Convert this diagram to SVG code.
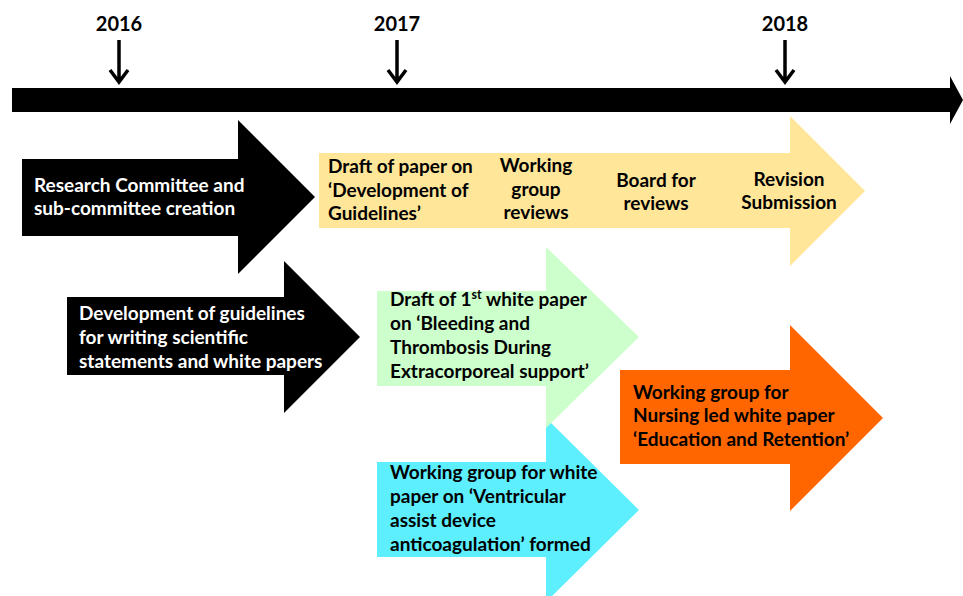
<svg xmlns="http://www.w3.org/2000/svg" width="963" height="596" viewBox="0 0 963 596">
  <style>
    .year { font-family: Lato, "Liberation Sans", sans-serif; font-weight: bold; font-size: 20px; fill: #000; text-anchor: middle; }
    .lbl { font-family: Lato, "Liberation Sans", sans-serif; font-weight: bold; font-size: 19px; fill: #000; }
    .lbl-w { fill: #fff; }
    .mid { text-anchor: middle; }
    .tick { stroke: #000; stroke-width: 3.5; fill: none; stroke-linecap: butt; }
  </style>

  <!-- timeline bar with year markers -->
  <g id="timeline">
    <polygon points="12,88 950,88 950,76 963,100 950,124 950,112 12,112" fill="#000"/>
  </g>
  <g id="year-2016">
    <text class="year" x="119" y="31">2016</text>
    <path class="tick" d="M119,40 V81 M110,70 L119,82 L128,70"/>
  </g>
  <g id="year-2017">
    <text class="year" x="397" y="31">2017</text>
    <path class="tick" d="M397,40 V81 M388,70 L397,82 L406,70"/>
  </g>
  <g id="year-2018">
    <text class="year" x="785" y="31">2018</text>
    <path class="tick" d="M785,40 V81 M776,70 L785,82 L794,70"/>
  </g>

  <!-- block arrows (stage shapes) -->
  <g id="connectors">
    <polygon id="arrow-committee" points="22,159 238,159 238,120 315,197 238,274 238,236 22,236" fill="#000"/>
    <polygon id="arrow-guidelines-paper" points="319,153 790,153 790,116 865,191 790,266 790,228 319,228" fill="#FFE699"/>
    <polygon id="arrow-writing" points="67,297 284,297 284,261 360,337 284,413 284,375 67,375" fill="#000"/>
    <polygon id="arrow-vad" points="377,462 546,462 546,418 639,510 546,602 546,557 377,557" fill="#5DEFFE"/>
    <polygon id="arrow-bleeding" points="377,291 546,291 546,247 639,337 546,428 546,386 377,386" fill="#CCFFCC"/>
    <polygon id="arrow-nursing" points="620,370 790,370 790,325 883,418 790,511 790,464 620,464" fill="#FF6600"/>
  </g>

  <g id="node-committee">
    <text class="lbl lbl-w" x="34" y="192">Research Committee and</text>
    <text class="lbl lbl-w" x="34" y="215">sub-committee creation</text>
  </g>

  <g id="node-draft-guidelines">
    <text class="lbl" x="328" y="173">Draft of paper on</text>
    <text class="lbl" x="328" y="197">‘Development of</text>
    <text class="lbl" x="328" y="220">Guidelines’</text>
  </g>
  <g id="node-working-group-reviews">
    <text class="lbl mid" x="536" y="172">Working</text>
    <text class="lbl mid" x="536" y="196">group</text>
    <text class="lbl mid" x="536" y="219">reviews</text>
  </g>
  <g id="node-board-reviews">
    <text class="lbl mid" x="656" y="187">Board for</text>
    <text class="lbl mid" x="656" y="210">reviews</text>
  </g>
  <g id="node-revision">
    <text class="lbl mid" x="789" y="186">Revision</text>
    <text class="lbl mid" x="789" y="209">Submission</text>
  </g>

  <g id="node-writing-guidelines">
    <text class="lbl lbl-w" x="79" y="320">Development of guidelines</text>
    <text class="lbl lbl-w" x="79" y="344">for writing scientific</text>
    <text class="lbl lbl-w" x="79" y="368">statements and white papers</text>
  </g>

  <g id="node-bleeding">
    <text class="lbl" x="390" y="306">Draft of 1<tspan font-size="12.5" dy="-7">st</tspan><tspan dy="7"> white paper</tspan></text>
    <text class="lbl" x="390" y="330">on ‘Bleeding and</text>
    <text class="lbl" x="390" y="354">Thrombosis During</text>
    <text class="lbl" x="390" y="378">Extracorporeal support’</text>
  </g>

  <g id="node-vad">
    <text class="lbl" x="390" y="479">Working group for white</text>
    <text class="lbl" x="390" y="503">paper on ‘Ventricular</text>
    <text class="lbl" x="390" y="527">assist device</text>
    <text class="lbl" x="390" y="551">anticoagulation’ formed</text>
  </g>

  <g id="node-nursing">
    <text class="lbl" x="633" y="399">Working group for</text>
    <text class="lbl" x="633" y="422">Nursing led white paper</text>
    <text class="lbl" x="633" y="446">‘Education and Retention’</text>
  </g>
</svg>
